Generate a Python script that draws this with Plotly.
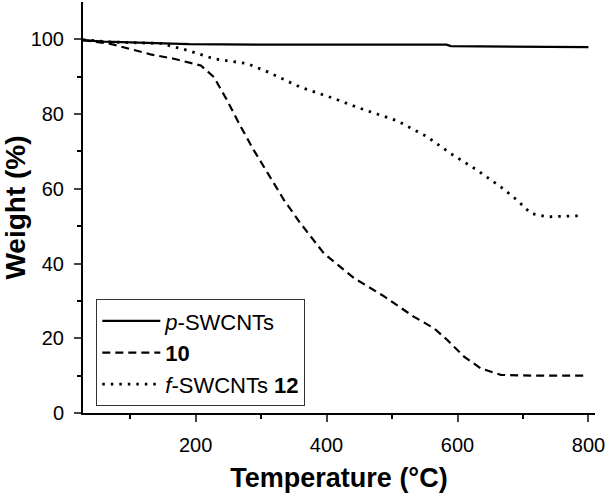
import plotly.graph_objects as go

# p-SWCNTs
temp_p = [28, 60, 100, 190, 300, 400, 500, 583, 590, 700, 710, 800]
weight_p = [99.8, 99.4, 99.2, 98.7, 98.6, 98.6, 98.6, 98.6, 98.2, 98.1, 97.9, 97.9]

# compound 10
temp_10 = [28, 70, 131, 167, 208, 228, 248, 269, 289, 310, 335, 360, 396, 442, 488, 533, 564, 584, 610, 635, 666, 716, 798]
weight_10 = [99.8, 98.8, 96.0, 94.8, 93.0, 89.9, 83.7, 76.6, 70.3, 64.1, 57.0, 50.8, 42.7, 36.1, 31.2, 25.8, 22.7, 19.6, 15.1, 12.0, 10.2, 10.0, 10.0]

# f-SWCNTs 12
temp_12 = [28, 70, 147, 187, 228, 279, 310, 360, 411, 447, 508, 554, 589, 630, 666, 691, 712, 737, 787]
weight_12 = [99.9, 99.3, 98.9, 97.1, 94.8, 93.5, 91.3, 87.2, 84.2, 81.8, 78.2, 73.9, 69.5, 65.0, 60.5, 57.0, 53.4, 52.5, 52.8]

names = ["<i>p</i>-SWCNTs", "<b>10</b>", "<i>f</i>-SWCNTs <b>12</b>"]
x_major = [200, 400, 600, 800]
x_minor = [100, 300, 500, 700]
y_major = [0, 20, 40, 60, 80, 100]
y_minor = [10, 30, 50, 70, 90]

fig = go.Figure()
fig.add_trace(go.Scatter(x=temp_p, y=weight_p, mode="lines", name=names[0],
                         line=dict(color="black", width=2.2)))
fig.add_trace(go.Scatter(x=temp_10, y=weight_10, mode="lines", name=names[1],
                         line=dict(color="black", width=2.2, dash="8px,5px")))
fig.add_trace(go.Scatter(x=temp_12, y=weight_12, mode="lines", name=names[2],
                         line=dict(color="black", width=2.8, dash="2.5px,6px")))

font_family = "Liberation Sans, Arial, sans-serif"
fig.update_layout(
    width=607, height=494,
    margin=dict(l=83, r=12, t=2, b=81, autoexpand=False),
    plot_bgcolor="white", paper_bgcolor="white",
    font=dict(family=font_family, size=20, color="black"),
    showlegend=True,
    legend=dict(x=0.026, y=0.277, xanchor="left", yanchor="top",
                bordercolor="#333", borderwidth=1, bgcolor="white",
                font=dict(size=22), tracegroupgap=0, itemwidth=58),
    xaxis=dict(range=[28, 810], tickvals=x_major, ticks="outside", ticklen=7, tickwidth=2,
               showline=True, linecolor="black", linewidth=2, showgrid=False, zeroline=False,
               minor=dict(tickvals=x_minor, ticks="outside", ticklen=4, tickwidth=2, tickcolor="black"),
               title=dict(text="<b>Temperature (°C)</b>", font=dict(size=27), standoff=13),
               tickfont=dict(size=20), ticklabelstandoff=6, automargin=False),
    yaxis=dict(range=[0, 110], tickvals=y_major, ticks="outside", ticklen=7, tickwidth=2,
               showline=True, linecolor="black", linewidth=2, showgrid=False, zeroline=False,
               minor=dict(tickvals=y_minor, ticks="outside", ticklen=4, tickwidth=2, tickcolor="black"),
               title=dict(text="<b>Weight (%)</b>", font=dict(size=28), standoff=0),
               tickfont=dict(size=20), ticklabelstandoff=6, automargin=False),
)

fig.write_html("out.html", config={"displayModeBar": False},
               post_script="document.body.style.margin='0px';")
